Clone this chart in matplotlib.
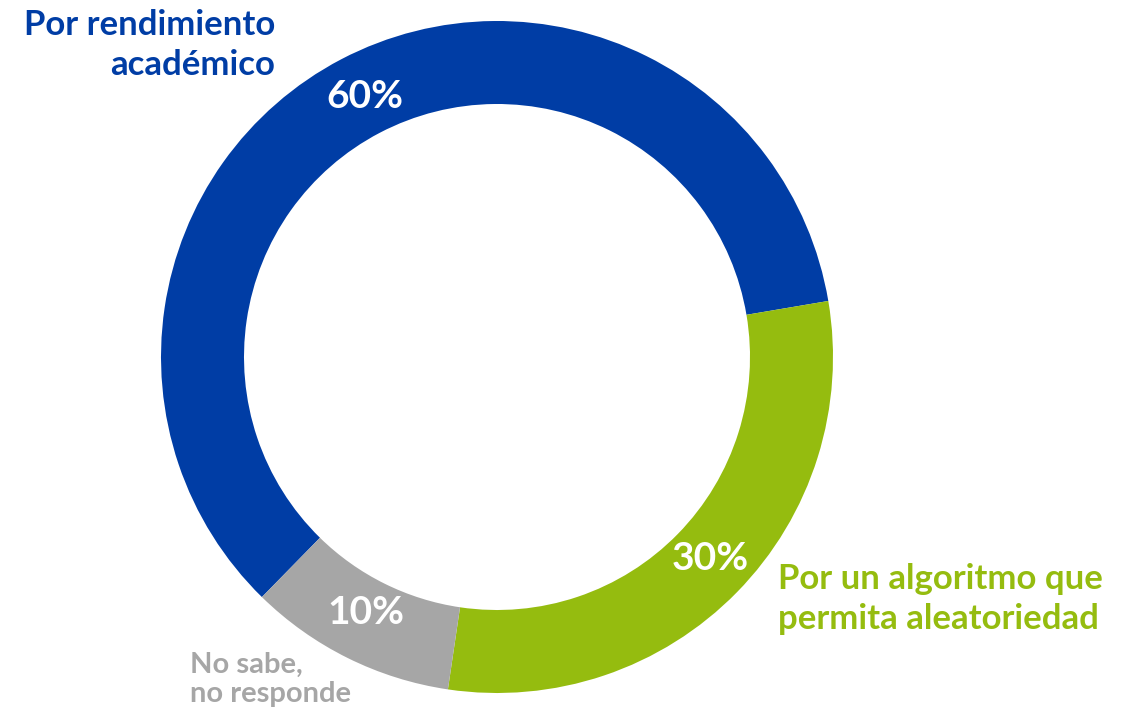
import matplotlib
matplotlib.use("Agg")
import matplotlib.pyplot as plt

categories = ["Por rendimiento\nacadémico", "Por un algoritmo que\npermita aleatoriedad", "No sabe,\nno responde"]
values = [60, 30, 10]
pct_labels = ["60%", "30%", "10%"]
colors = ["#003DA5", "#95BC0F", "#A6A6A6"]

plt.rcParams['font.family'] = ['Lato', 'DejaVu Sans']

W, H = 1135, 716
fig = plt.figure(figsize=(W / 100, H / 100), dpi=100)
cx, cy, R = 497, 357, 336
ax = fig.add_axes([(cx - R) / W, (H - cy - R) / H, 2 * R / W, 2 * R / H])

width = 83 / 336
wedges, _ = ax.pie(values, colors=colors, startangle=225.6, counterclock=False,
                   radius=1, wedgeprops=dict(width=width, linewidth=0))
ax.set_xlim(-1, 1)
ax.set_ylim(-1, 1)
ax.set_aspect('equal')
ax.axis('off')

def px(x, y):
    # pixel (from top-left) to data coords
    return ((x - cx) / R, (cy - y) / R)

# percentage labels
pct_pos = [(365, 97), (710, 558), (366, 612)]
for lab, (x, y) in zip(pct_labels, pct_pos):
    ax.text(*px(x, y), lab, color='white', fontsize=28, fontweight='bold',
            ha='center', va='center')

# category labels
fig.text(275 / W, 1 - 45 / H, categories[0], color=colors[0], fontsize=25,
         fontweight='bold', ha='right', va='center', linespacing=1.3)
fig.text(778 / W, 1 - 599 / H, categories[1], color=colors[1], fontsize=25,
         fontweight='bold', ha='left', va='center', linespacing=1.3)
fig.text(190 / W, 1 - 679 / H, categories[2], color=colors[2], fontsize=21,
         fontweight='bold', ha='left', va='center', linespacing=1.15)

fig.savefig("out.png", dpi=100, facecolor='white')
